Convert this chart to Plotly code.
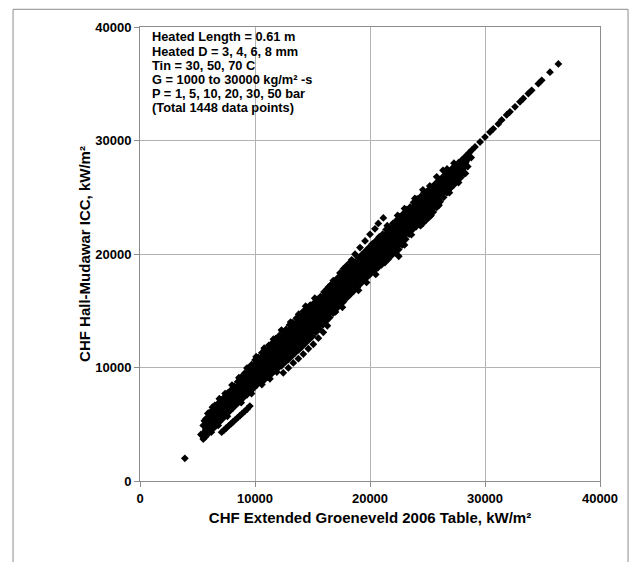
import plotly.graph_objects as go

# ---- axis ticks ----
tick_vals = [0, 10000, 20000, 30000, 40000]
tick_text = ["0", "10000", "20000", "30000", "40000"]

# ---- note text ----
note_lines = ["Heated Length = 0.61 m", "Heated D = 3, 4, 6, 8 mm", "Tin = 30, 50, 70 C",
              "G = 1000 to 30000 kg/m² -s", "P = 1, 5, 10, 20, 30, 50 bar", "(Total 1448 data points)"]

# ---- data (kW/m2) ----
# upper envelope of the dense band (low x -> high x)
upper_x = [5300, 5500, 5750, 6000, 6250, 6500, 6750, 7000, 7300, 7600, 7900, 8200, 8500, 8800, 9100,
           9400, 9700, 10000, 10300, 10600, 10900, 11200, 11500, 11800, 12100, 12400, 12700, 13000,
           13300, 13600, 13900, 14200, 14500, 14800, 15100, 15400, 15700, 16000, 16300, 16600, 16900,
           17200, 17500, 17800, 18100, 18400, 18700, 19000, 19300, 19600, 19900, 20200, 20500, 20800,
           21100, 21400, 21700, 22000, 22300, 22600, 22900, 23200, 23500, 23800, 24100, 24400, 24700,
           25000, 25300, 25600, 25900, 26200, 26500, 26800, 27100, 27400, 27700, 28000, 28300, 28600]
upper_y = [4100, 4900, 5500, 6000, 6200, 6650, 6800, 7150, 7350, 7750, 8000, 8350, 8750, 9150, 9500,
           9950, 10250, 10650, 10900, 11300, 11550, 11950, 12150, 12550, 12800, 13150, 13350, 13750,
           13950, 14350, 14550, 14950, 15150, 15500, 15650, 16000, 16250, 16650, 16950, 17300, 17550,
           17900, 18150, 18450, 18750, 19050, 19300, 19650, 19950, 20250, 20550, 20900, 21150, 21500,
           21750, 22150, 22350, 22700, 22950, 23300, 23550, 23900, 24150, 24550, 24850, 25050, 25400,
           25550, 25900, 26100, 26400, 26650, 26950, 27200, 27500, 27750, 28050, 28300, 28600, 28900]
# lower envelope of the dense band (high x -> low x)
lower_x = [28800, 28500, 28200, 27900, 27600, 27300, 27000, 26700, 26400, 26100, 25800, 25500, 25200,
           24900, 24600, 24300, 24000, 23700, 23400, 23100, 22800, 22500, 22200, 21900, 21600, 21300,
           21000, 20700, 20400, 20100, 19800, 19500, 19200, 18900, 18600, 18300, 18000, 17700, 17400,
           17100, 16800, 16500, 16200, 15900, 15600, 15300, 15000, 14700, 14400, 14100, 13800, 13500,
           13200, 12900, 12600, 12300, 12000, 11700, 11400, 11100, 10800, 10500, 10200, 9900, 9600,
           9300, 9000, 8700, 8400, 8100, 7800, 7500, 7200, 6900, 6600, 6300, 6000, 5700, 5500]
lower_y = [28500, 27700, 27100, 26750, 26450, 26100, 25800, 25400, 25000, 24600, 24100, 23700, 23300,
           23000, 22700, 22600, 22400, 22150, 21750, 21300, 20800, 20400, 20100, 19900, 19550, 19250,
           19050, 18800, 18550, 18300, 18000, 17750, 17400, 17050, 16750, 16450, 16150, 15800, 15500,
           15200, 14800, 14400, 14100, 13750, 13400, 13100, 12750, 12450, 12150, 11850, 11550, 11300,
           11000, 10700, 10450, 10150, 9950, 9700, 9400, 9150, 8900, 8700, 8500, 8200, 7900,
           7600, 7350, 7050, 6750, 6450, 6150, 5850, 5500, 5200, 4850, 4550, 4250, 3900, 3700]
# scattered points sticking out of the band edges
edge_x = [5600, 5900, 6300, 6900, 7400, 8000, 8600, 9300, 10100, 10800, 11600, 12300, 13100, 13800,
          14400, 15200, 17700, 18300, 21500, 22400, 23000, 23900, 26700, 27300,
          6200, 6800, 7600, 8800, 9700, 10600, 11300, 11900, 17000, 17600, 19000, 19700, 20500,
          22500, 23000, 23600, 24400, 25300, 26000, 26900, 27700, 28300]
edge_y = [5300, 5950, 6500, 7250, 7700, 8450, 9100, 9950, 10950, 11700, 12500, 13300, 14000, 14700,
          15400, 16100, 18700, 19300, 22500, 23400, 24000, 24900, 27500, 28000,
          4300, 4900, 5700, 6900, 7700, 8500, 9000, 9600, 14900, 15300, 16800, 17500, 18200,
          19800, 20800, 21700, 22500, 23400, 24300, 25400, 26300, 27100]
# narrow upper tail of the band
tail_x = [28840, 29130, 29570, 30000, 30430, 30720, 31160, 31450, 31880, 32170, 32610, 33040, 33330,
          33770, 34060, 34640, 34930, 35650, 36380]
tail_y = [29140, 29430, 29870, 30300, 30740, 31030, 31460, 31810, 32250, 32530, 32970, 33410, 33700,
          34140, 34420, 35010, 35300, 36020, 36750]
# row of points above the band
dots_up_x = [16380, 16810, 17390, 17970, 18410, 18700, 19130, 19570, 20000, 20430, 20720, 21160]
dots_up_y = [17080, 17660, 18330, 18970, 19490, 19980, 20570, 21150, 21730, 22220, 22690, 23180]
# row of points below the band
dots_low_x = [12460, 12900, 13330, 13770, 14200, 14640, 15070, 15510, 15940, 16290]
dots_low_y = [9530, 9960, 10400, 10780, 11180, 11650, 12050, 12580, 13100, 13680]
# short dense line of points under the low end of the band
seg_x = [7100, 7300, 7500, 7700, 7900, 8100, 8300, 8500, 8700, 8900, 9100, 9300, 9550]
seg_y = [4300, 4480, 4670, 4850, 5030, 5220, 5400, 5590, 5770, 5950, 6140, 6320, 6600]
# scattered single points
single_x = [3900, 24600, 25200, 25800, 26350, 5400]
single_y = [2000, 25650, 26000, 26800, 27370, 4000]

BLACK = "#000000"
GRID = "#b3b3b3"
AXIS = "#8c8c8c"
FAMILY = "Liberation Sans, Arial, sans-serif"
mk = dict(symbol="diamond", size=6, color=BLACK, line=dict(width=0))

fig = go.Figure()
fig.add_trace(go.Scatter(x=upper_x + lower_x, y=upper_y + lower_y, mode="markers", fill="toself",
                         fillcolor=BLACK, line=dict(width=0, color=BLACK), marker=mk,
                         hoverinfo="skip", showlegend=False))
for xs, ys in [(edge_x, edge_y), (tail_x, tail_y), (dots_up_x, dots_up_y), (dots_low_x, dots_low_y),
               (seg_x, seg_y), (single_x, single_y)]:
    fig.add_trace(go.Scatter(x=xs, y=ys, mode="markers", marker=mk, showlegend=False))

fnt = dict(family=FAMILY, size=13, color=BLACK, weight="bold")
title_fnt = dict(family=FAMILY, size=15, color=BLACK, weight="bold")
axis_common = dict(range=[0, 40000], tickvals=tick_vals, ticktext=tick_text, ticks="outside",
                   ticklen=5, tickcolor=AXIS, showline=True, linecolor=AXIS, linewidth=1,
                   mirror=True, showgrid=True, gridcolor=GRID, gridwidth=1, zeroline=False,
                   tickfont=fnt)

# note lines, one annotation per line
PLOT_TOP, PLOT_H = 22, 459
line_centers_px = [32, 46.3, 60.6, 74.9, 89.2, 103.5]
annotations = []
for txt, py in zip(note_lines, line_centers_px):
    annotations.append(dict(xref="paper", yref="paper", x=0.021, y=1 - (py - PLOT_TOP) / PLOT_H,
                            xanchor="left", yanchor="middle", align="left", showarrow=False,
                            font=dict(family=FAMILY, size=12.8, color=BLACK, weight="bold"),
                            text=txt))

fig.update_layout(
    width=631, height=554,
    margin=dict(l=132, r=39, t=14, b=81),
    paper_bgcolor="white", plot_bgcolor="white",
    xaxis=dict(**axis_common, title=dict(text="CHF Extended Groeneveld 2006 Table, kW/m²",
                                         font=title_fnt, standoff=7)),
    yaxis=dict(**axis_common, title=dict(text="CHF Hall-Mudawar ICC, kW/m²", font=title_fnt, standoff=0)),
    annotations=annotations,
    shapes=[
        dict(type="line", xref="paper", yref="paper", x0=-0.276, x1=-0.276, y0=1.039, y1=-0.25,
             line=dict(color=AXIS, width=1)),
        dict(type="line", xref="paper", yref="paper", x0=1.061, x1=1.061, y0=1.039, y1=-0.25,
             line=dict(color=AXIS, width=1)),
        dict(type="line", xref="paper", yref="paper", x0=-0.276, x1=1.061, y0=1.039, y1=1.039,
             line=dict(color=AXIS, width=1)),
    ],
)
fig.write_html("out.html")
